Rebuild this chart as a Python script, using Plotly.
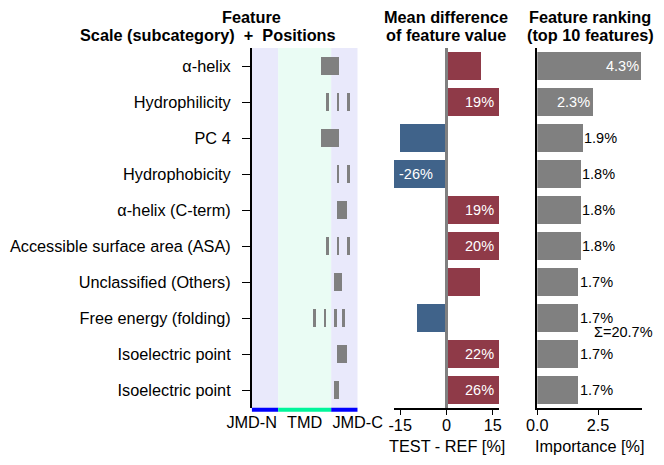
import plotly.graph_objects as go

# ---------------- data ----------------
features = ["α-helix", "Hydrophilicity", "PC 4", "Hydrophobicity", "α-helix (C-term)",
            "Accessible surface area (ASA)", "Unclassified (Others)", "Free energy (folding)",
            "Isoelectric point", "Isoelectric point"]
feature_positions = [
    [27, 28, 29, 30, 31, 32, 33],
    [29, 33, 37],
    [27, 28, 29, 30, 31, 32, 33],
    [33, 37],
    [33, 34, 35, 36],
    [29, 33, 37],
    [32, 33, 34],
    [24, 28, 32, 35],
    [33, 34, 35, 36],
    [32, 33],
]
mean_diff = [11.3, 19, -15, -26, 19, 20, 10.7, -9.6, 22, 26]
importance = [4.3, 2.3, 1.9, 1.8, 1.8, 1.8, 1.7, 1.7, 1.7, 1.7]
parts = ["JMD-N", "TMD", "JMD-C"]
part_lengths = [10, 20, 10]

# ---------------- styles ----------------
W, H = 664, 465
FONT = "Arial, Liberation Sans, sans-serif"
FS = 16.3
FS_LAB = 14.5
RED, BLUE, GRAY = "#8f3a48", "#40638a", "#808080"
JMD_BG, TMD_BG = "#e9e9fb", "#eafcf4"
JMD_COL, TMD_COL = "#0000ff", "#00f59a"
DIFF_LIM = 17
IMP_LIM = 4.3


def px(x):
    return x / W


def py(y):
    return 1 - y / H


rows = list(range(len(features)))
ydom = [py(408), py(48)]

fig = go.Figure()

# panel 1: positions (group consecutive positions into segments)
seg_y, seg_base, seg_len = [], [], []
for r, pos in zip(rows, feature_positions):
    pos = sorted(pos)
    start = prev = pos[0]
    for p in pos[1:] + [None]:
        if p is not None and p == prev + 1:
            prev = p
            continue
        seg_y.append(r)
        seg_base.append(start - 1)
        seg_len.append(prev - start + 1)
        if p is not None:
            start = prev = p
fig.add_trace(go.Bar(y=seg_y, x=seg_len, base=seg_base, orientation="h", width=0.5,
                     marker=dict(color=GRAY, line=dict(width=0)),
                     xaxis="x", yaxis="y", showlegend=False, hoverinfo="skip"))

# panel 2: mean difference
fig.add_trace(go.Bar(y=rows, x=mean_diff, orientation="h", width=0.8,
                     marker=dict(color=[RED if v > 0 else BLUE for v in mean_diff], line=dict(width=0)),
                     xaxis="x2", yaxis="y2", showlegend=False, hoverinfo="skip"))

# panel 3: importance
fig.add_trace(go.Bar(y=rows, x=importance, orientation="h", width=0.8,
                     marker=dict(color=GRAY, line=dict(width=0)),
                     xaxis="x3", yaxis="y3", showlegend=False, hoverinfo="skip"))

shapes = []
edges = [0]
for L in part_lengths:
    edges.append(edges[-1] + L)
for i, name in enumerate(parts):
    bg = TMD_BG if name == "TMD" else JMD_BG
    col = TMD_COL if name == "TMD" else JMD_COL
    shapes.append(dict(type="rect", xref="x", yref="y domain", x0=edges[i], x1=edges[i + 1],
                       y0=0, y1=1, fillcolor=bg, line=dict(width=0), layer="below"))
    shapes.append(dict(type="rect", xref="x", yref="paper", x0=edges[i], x1=edges[i + 1],
                       y0=py(411.7), y1=py(407.7), fillcolor=col, line=dict(width=0), layer="above"))
shapes.append(dict(type="line", xref="x2", yref="y2 domain", x0=0, x1=0, y0=0, y1=1,
                   line=dict(color=GRAY, width=3), layer="above"))

annotations = []
tfont = dict(family=FONT, size=FS, color="black")
for r, v in zip(rows, mean_diff):
    if abs(v) > DIFF_LIM:
        annotations.append(dict(x=DIFF_LIM if v > 0 else -DIFF_LIM, y=r, xref="x2", yref="y2",
                                text=f"{round(v)}%", showarrow=False,
                                xanchor="right" if v > 0 else "left", xshift=-3 if v > 0 else 3,
                                font=dict(family=FONT, size=FS_LAB, color="white")))
for r, v in zip(rows, importance):
    inside = v >= 2
    annotations.append(dict(x=v, y=r, xref="x3", yref="y3", text=f"{v:.1f}%", showarrow=False,
                            xanchor="right" if inside else "left", xshift=-1,
                            font=dict(family=FONT, size=FS_LAB, color="white" if inside else "black")))
annotations.append(dict(x=px(592), y=py(331.5), xref="paper", yref="paper",
                        text=f"Σ={sum(importance):.1f}%", showarrow=False,
                        xanchor="left", yanchor="middle",
                        font=dict(family=FONT, size=FS_LAB, color="black")))
for txt, x, y in [("<b>Feature</b>", 251, 17.5),
                  ("<b>Scale (subcategory) \u00a0+\u00a0 Positions</b>", 208, 34.5),
                  ("<b>Mean difference</b>", 446, 17.5),
                  ("<b>of feature value</b>", 446, 34.5),
                  ("<b>Feature ranking</b>", 590, 17.5),
                  ("<b>(top 10 features)</b>", 590, 34.5),
                  ("TEST - REF [%]", 446.5, 446),
                  ("Importance [%]", 589.5, 446)]:
    annotations.append(dict(x=px(x), y=py(y), xref="paper", yref="paper", text=txt,
                            showarrow=False, xanchor="center", yanchor="middle", font=tfont))

axis_font = dict(family=FONT, size=FS, color="black")
fig.update_layout(
    width=W, height=H, margin=dict(l=0, r=0, t=0, b=0, autoexpand=False),
    paper_bgcolor="white", plot_bgcolor="rgba(0,0,0,0)",
    barmode="overlay", bargap=0, showlegend=False,
    font=dict(family=FONT, size=FS, color="black"),
    xaxis=dict(domain=[px(251.7), px(357.7)], range=[0, sum(part_lengths)],
               tickvals=[edges[0], part_lengths[0] + part_lengths[1] / 2, edges[-1]],
               ticktext=parts, showgrid=False, zeroline=False, showline=False, ticks="",
               tickfont=axis_font, anchor="y", automargin=False, ticklabelstandoff=3),
    yaxis=dict(domain=ydom, range=[len(rows) - 0.5, -0.5], tickvals=rows, ticktext=features,
               showgrid=False, zeroline=False, showline=True, linecolor="black", linewidth=1.5,
               ticks="outside", ticklen=8, tickwidth=1.2, tickcolor="black",
               tickfont=axis_font, anchor="x", automargin=False, ticklabelstandoff=8),
    xaxis2=dict(domain=[px(394), px(499)], range=[-DIFF_LIM, DIFF_LIM], tickvals=[-15, 0, 15],
                ticktext=["-15", "0", "15"], showgrid=False, zeroline=False, showline=True,
                linecolor="black", linewidth=1.5, ticks="outside", ticklen=5, tickwidth=1.2,
                tickcolor="black", tickfont=axis_font, anchor="y2", automargin=False,
                ticklabelstandoff=-3),
    yaxis2=dict(domain=ydom, matches="y", showticklabels=False, showgrid=False, zeroline=False,
                showline=False, ticks="", anchor="x2", automargin=False),
    xaxis3=dict(domain=[px(537.3), px(641.7)], range=[0, IMP_LIM], tickvals=[0, 2.5],
                ticktext=["0.0", "2.5"], showgrid=False, zeroline=False, showline=True,
                linecolor="black", linewidth=1.5, ticks="outside", ticklen=5, tickwidth=1.2,
                tickcolor="black", tickfont=axis_font, anchor="y3", automargin=False,
                ticklabelstandoff=-3),
    yaxis3=dict(domain=ydom, matches="y", showticklabels=False, showgrid=False, zeroline=False,
                showline=True, linecolor="black", linewidth=1.5, ticks="", anchor="x3",
                automargin=False),
    shapes=shapes, annotations=annotations,
)

fig.write_html("out.html")
